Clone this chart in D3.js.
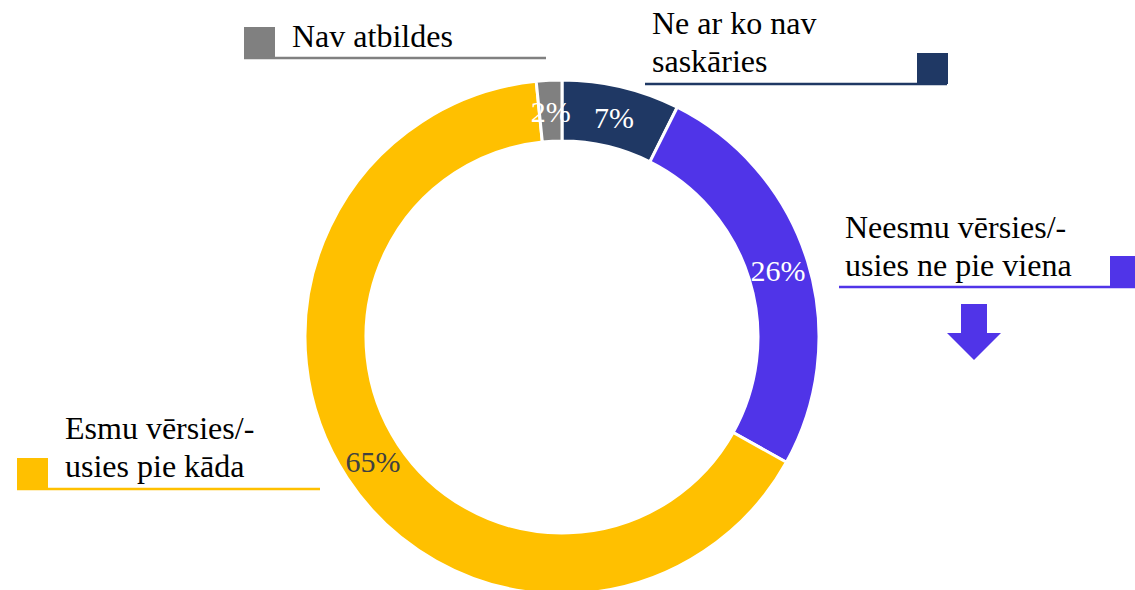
<!DOCTYPE html>
<html>
<head>
<meta charset="utf-8">
<script src="https://cdn.jsdelivr.net/npm/d3@7"></script>
<style>
  body { margin: 0; background: #fff; }
</style>
</head>
<body>
<svg width="1135" height="590"></svg>
<script>
// data, clockwise from 12 o'clock
var categories = ['Ne ar ko nav saskāries', 'Neesmu vērsies/-usies ne pie viena', 'Esmu vērsies/-usies pie kāda', 'Nav atbildes'];
var values = [7.4, 25.7, 65.3, 1.6];
var valueLabels = ['7%', '26%', '65%', '2%'];
var legendLines = [['Ne ar ko nav', 'saskāries'], ['Neesmu vērsies/-', 'usies ne pie viena'], ['Esmu vērsies/-', 'usies pie kāda'], ['Nav atbildes']];
var colors = ['#1f3864', '#5034e8', '#ffc000', '#808080'];
var labelColors = ['#ffffff', '#ffffff', '#404040', '#ffffff'];

var FONT = "'Liberation Serif', 'Times New Roman', 'DejaVu Serif', serif";
var svg = d3.select('svg');
var cx = 562, cy = 337, rOuter = 257, rInner = 196;

var pie = d3.pie().sort(null).value(function(d){ return d; });
var arc = d3.arc().innerRadius(rInner).outerRadius(rOuter);
var labelArc = d3.arc().innerRadius(226).outerRadius(226);

var g = svg.append('g').attr('transform', 'translate(' + cx + ',' + cy + ')');
var arcs = pie(values);

g.selectAll('path').data(arcs).enter().append('path')
  .attr('d', arc)
  .attr('fill', function(d, i){ return colors[i]; })
  .attr('stroke', '#fff').attr('stroke-width', 3);

g.selectAll('text').data(arcs).enter().append('text')
  .attr('transform', function(d){ return 'translate(' + labelArc.centroid(d) + ')'; })
  .attr('text-anchor', 'middle').attr('dominant-baseline', 'central')
  .attr('font-family', FONT)
  .style('font-size', '30px')
  .style('fill', function(d, i){ return labelColors[i]; })
  .text(function(d, i){ return valueLabels[i]; });

// legend boxes: text x, first baseline, underline x1/x2/y, square x
var legendPos = [
  { tx: 652, ty: 34, x1: 645, x2: 947, y: 84, sq: 917 },
  { tx: 845, ty: 238, x1: 839, x2: 1140, y: 287, sq: 1110 },
  { tx: 65, ty: 439, x1: 17, x2: 320, y: 489, sq: 17 },
  { tx: 292, ty: 47, x1: 244, x2: 546, y: 58, sq: 244 }
];

legendPos.forEach(function(p, i){
  var lg = svg.append('g');
  lg.append('rect')
    .attr('x', p.sq).attr('y', p.y - 31).attr('width', 31).attr('height', 31)
    .attr('fill', colors[i]);
  lg.append('line')
    .attr('x1', p.x1).attr('x2', p.x2).attr('y1', p.y).attr('y2', p.y)
    .attr('stroke', colors[i]).attr('stroke-width', 2.5);
  legendLines[i].forEach(function(t, j){
    lg.append('text').attr('x', p.tx).attr('y', p.ty + j * 38)
      .attr('font-family', FONT)
      .style('font-size', '32px').style('fill', '#000').text(t);
  });
});

// down arrow under the "Neesmu" box
svg.append('path')
  .attr('d', d3.line()([[961, 304], [987, 304], [987, 333], [1001, 333], [974, 360], [947, 333], [961, 333]]) + 'Z')
  .attr('fill', colors[1]);
</script>
</body>
</html>
